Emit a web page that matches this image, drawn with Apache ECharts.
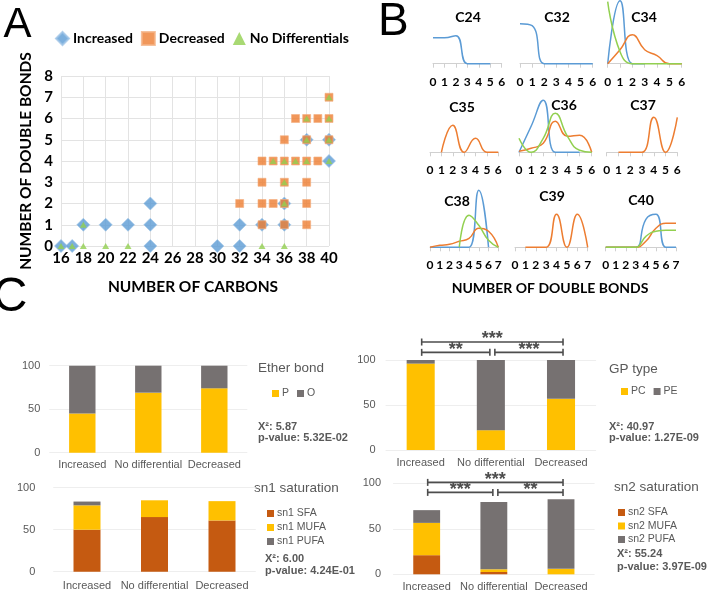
<!DOCTYPE html>
<html><head><meta charset="utf-8">
<script src="https://cdn.jsdelivr.net/npm/echarts@6/dist/echarts.min.js"></script>
<style>html,body{margin:0;padding:0;background:#fff}#c{width:708px;height:595px}</style>
</head><body><div id="c"></div>
<script>
// ---------- Panel A data: [number of carbons, number of double bonds]
const incPts = [[16,0],[17,0],[18,1],[20,1],[22,1],[24,0],[24,1],[24,2],[30,0],[32,0],[32,1],[34,1],[36,1],[36,2],[38,5],[40,4],[40,5]];
const decPts = [[32,2],[34,1],[34,2],[34,3],[34,4],[35,2],[35,4],[36,1],[36,2],[36,3],[36,4],[36,5],[37,4],[37,6],[38,1],[38,2],[38,3],[38,4],[38,5],[38,6],[39,4],[39,6],[40,5],[40,6],[40,7]];
const ndPts  = [[16,0],[17,0],[18,0],[18,1],[20,0],[22,0],[34,0],[36,0],[35,4],[36,2],[36,3],[36,4],[37,4],[38,4],[38,5],[38,6],[40,4],[40,5],[40,6],[40,7]];

// ---------- Panel B data (distribution over number of double bonds)
const bCats6 = ['0','1','2','3','4','5','6'];
const bCats7 = ['0','1','2','3','4','5','6','7'];
const c24Inc = [26,26,28,0,0,0];
const c32Inc = [40,38,0,0,0,0,0];
const c34Inc = [0,63,0,0];
const c34Dec = [0,14,29,14,8,0,0];
const c34Nd  = [62,12,0,0,0,0,0];
const c35Dec = [null,0,27,0,14,0,0];
const c36Inc = [0,26,52,0,0,0];
const c36Dec = [1,4,9,31,16,17,0];
const c36Nd  = [14,0,14,39,16,2,0];
const c37Dec = [null,0,0,0,35,0,35];
const c38Inc = [0,0,0,0,0,57,0];
const c38Dec = [0,2,3,6,9,19,16,0];
const c38Nd  = [null,null,null,0,32,22,7,0];
const c39Dec = [null,0,0,0,33,0,33,0];
const c40Inc = [0,0,0,0,28,33,0,0];
const c40Dec = [0,0,0,0,6,19,24,24];
const c40Nd  = [0,0,0,0,11,16,17,17];

// ---------- Panel C data (%)
const cCats = ['Increased','No differential','Decreased'];
const etherP = [45,69,74];
const etherO = [55,31,26];
const gpPC = [96,22,57];
const gpPE = [4,78,43];
const sn1SFA = [50,65,61];
const sn1MUFA = [29,20,23];
const sn1PUFA = [4.5,0,0];
const sn2SFA = [21,2.5,0];
const sn2MUFA = [35.5,3,6];
const sn2PUFA = [14,74,76.5];
const gpBrackets  = [[0,2,120,'***'],[0,1,108.5,'**'],[1,2,108.5,'***']];
const sn2Brackets = [[0,2,101,'***'],[0,1,90,'***'],[1,2,90,'**']];
const chiSq = ['5.87','40.97','6.00','55.24'];
const pVals = ['5.32E-02','1.27E-09','4.24E-01','3.97E-09'];

// ---------- styling
const FAB = 'Lato', FC = 'Liberation Sans';
const BLUE='#5B9BD5', ORANGE='#ED7D31', GREEN='#92D050', YEL='#FFC000', GRAY='#767171', BROWN='#C55A11', TXT='#595959';

const grids=[], xAxes=[], yAxes=[], series=[], graphics=[], legends=[];

function txt(x,y,text,opt){
  opt = opt||{};
  graphics.push({type:'text', x:x, y:y, rotation:opt.rot||0, silent:true, style:{
    text:text, fill:opt.color||'#000', fontSize:opt.size||12, fontWeight:opt.weight||'normal',
    fontFamily:opt.family||FC, align:opt.align||'left', verticalAlign:'middle',
    textAlign:opt.align||'left', textVerticalAlign:'middle'}});
}

// ---------- Panel A
grids.push({left:61, top:76, width:268, height:170});
xAxes.push({type:'value', gridIndex:0, min:16, max:40, interval:2,
  axisLine:{show:false}, axisTick:{show:false},
  splitLine:{lineStyle:{color:'#e3e3e3'}},
  axisLabel:{margin:5, color:'#000', fontWeight:'bold', fontSize:15, fontFamily:FAB}});
yAxes.push({type:'value', gridIndex:0, min:0, max:8, interval:1,
  axisLine:{show:false}, axisTick:{show:false},
  splitLine:{lineStyle:{color:'#e3e3e3'}},
  axisLabel:{margin:8, color:'#000', fontWeight:'bold', fontSize:15, fontFamily:FAB}});
series.push({name:'Increased', type:'scatter', xAxisIndex:0, yAxisIndex:0, data:incPts,
  symbol:'diamond', symbolSize:[13,13], itemStyle:{color:BLUE, borderColor:'#9DC3E6', borderWidth:0.8}, z:2});
series.push({name:'Decreased', type:'scatter', xAxisIndex:0, yAxisIndex:0, data:decPts,
  symbol:'rect', symbolSize:[8,8], itemStyle:{color:ORANGE, borderColor:'#F4B183', borderWidth:0.8}, z:3});
series.push({name:'No Differentials', type:'scatter', xAxisIndex:0, yAxisIndex:0, data:ndPts,
  symbol:'triangle', symbolSize:[7,6], itemStyle:{color:GREEN}, z:4});
legends.push({data:['Increased','Decreased','No Differentials'], left:50, top:26,
  itemWidth:13, itemHeight:13, itemGap:8, selectedMode:false,
  textStyle:{fontSize:14, fontWeight:'bold', fontFamily:FAB, color:'#000', padding:[0,0,0,-1]}});
txt(193, 287, 'NUMBER OF CARBONS', {size:15.5, weight:'bold', family:FAB, align:'center'});
txt(26, 161, 'NUMBER OF DOUBLE BONDS', {size:15.5, weight:'bold', family:FAB, align:'center', rot:Math.PI/2});

// ---------- Panel B
const bPanels = [
  {t:'C24', cats:bCats6, lines:[[c24Inc,BLUE]]},
  {t:'C32', cats:bCats6, lines:[[c32Inc,BLUE]]},
  {t:'C34', cats:bCats6, lines:[[c34Inc,BLUE],[c34Dec,ORANGE],[c34Nd,GREEN]]},
  {t:'C35', cats:bCats6, lines:[[c35Dec,ORANGE]]},
  {t:'C36', cats:bCats6, lines:[[c36Inc,BLUE],[c36Dec,ORANGE],[c36Nd,GREEN]]},
  {t:'C37', cats:bCats6, lines:[[c37Dec,ORANGE]]},
  {t:'C38', cats:bCats7, lines:[[c38Inc,BLUE],[c38Dec,ORANGE],[c38Nd,GREEN]]},
  {t:'C39', cats:bCats7, lines:[[c39Dec,ORANGE]]},
  {t:'C40', cats:bCats7, lines:[[c40Inc,BLUE],[c40Dec,ORANGE],[c40Nd,GREEN]]}
];
const bLayout = [
  {l:433, r:501.7, base:63.7, tx:468, ty:17},
  {l:520, r:592.7, base:63.7, tx:557, ty:17},
  {l:607.7, r:681.7, base:63.7, tx:644, ty:17},
  {l:430, r:498.3, base:152.3, tx:462, ty:107},
  {l:519, r:591.7, base:152.3, tx:564, ty:105},
  {l:606.7, r:677.3, base:152.3, tx:643, ty:105},
  {l:430, r:498.3, base:247.3, tx:457, ty:201},
  {l:515, r:587.7, base:247.3, tx:552, ty:196},
  {l:605.7, r:676, base:247.3, tx:641, ty:200}
];
const BH = 60;
bPanels.forEach(function(p,i){
  const L = bLayout[i], g = grids.length;
  grids.push({left:L.l, top:L.base-BH, width:L.r-L.l, height:BH});
  xAxes.push({type:'category', gridIndex:g, data:p.cats, boundaryGap:false,
    axisLine:{lineStyle:{color:'#d0d0d0', width:1}},
    axisTick:{show:true, length:4, lineStyle:{color:'#d0d0d0'}},
    axisLabel:{interval:0, margin:12, fontSize:12, fontWeight:'bold', color:'#000', fontFamily:FAB},
    splitLine:{show:false}});
  yAxes.push({type:'value', gridIndex:g, min:0, max:BH, show:false, splitLine:{show:false}});
  p.lines.forEach(function(ln,k){
    series.push({name:p.t+'_'+k, type:'line', xAxisIndex:g, yAxisIndex:g, data:ln[0],
      smooth:0.5, symbol:'none', clip:false, silent:true,
      lineStyle:{color:ln[1], width:1.5}, itemStyle:{color:ln[1]}});
  });
  txt(L.tx, L.ty, p.t, {size:14, weight:'bold', family:FAB, align:'center'});
});
txt(550, 288, 'NUMBER OF DOUBLE BONDS', {size:14, weight:'bold', family:FAB, align:'center'});

// ---------- Panel C
const cLayout = [
  {l:49.3, top:365.7, w:198, h:87, lm:9, xm:7},
  {l:385.6, top:360, w:210.5, h:90, lm:10, xm:7},
  {l:53.25, top:487.7, w:202.5, h:84, lm:18, xm:9},
  {l:393.1, top:483.3, w:201.5, h:91, lm:12, xm:7}
];
const cCharts = [
  [['P',etherP,YEL],['O',etherO,GRAY]],
  [['PC',gpPC,YEL],['PE',gpPE,GRAY]],
  [['sn1 SFA',sn1SFA,BROWN],['sn1 MUFA',sn1MUFA,YEL],['sn1 PUFA',sn1PUFA,GRAY]],
  [['sn2 SFA',sn2SFA,BROWN],['sn2 MUFA',sn2MUFA,YEL],['sn2 PUFA',sn2PUFA,GRAY]]
];
const cGridIdx = [];
cCharts.forEach(function(ch,i){
  const L = cLayout[i], g = grids.length;
  cGridIdx.push(g);
  grids.push({left:L.l, top:L.top, width:L.w, height:L.h});
  xAxes.push({type:'category', gridIndex:g, data:cCats,
    axisLine:{show:false}, axisTick:{show:false},
    axisLabel:{interval:0, margin:L.xm, fontSize:11, color:TXT, fontFamily:FC}});
  yAxes.push({type:'value', gridIndex:g, min:0, max:100, interval:50,
    axisLine:{show:false}, axisTick:{show:false},
    splitLine:{lineStyle:{color:'#eeeeee'}},
    axisLabel:{margin:L.lm, fontSize:11, color:TXT, fontFamily:FC}});
  ch.forEach(function(s){
    series.push({name:s[0], type:'bar', stack:'s'+i, xAxisIndex:g, yAxisIndex:g, data:s[1],
      barWidth:'40%', itemStyle:{color:s[2]}});
  });
});

function bracketSeries(g, brackets){
  return {type:'custom', name:'br'+g, xAxisIndex:g, yAxisIndex:g, clip:false, silent:true, z:10,
    data: brackets.map(function(b){return [b[0], b[2], b[1]];}),
    renderItem:function(params, api){
      const b = brackets[params.dataIndex];
      const s = api.coord([b[0], b[2]]), e = api.coord([b[1], b[2]]);
      const x1 = s[0] + (b[0]===1 ? 4 : 1), x2 = e[0] + (b[1]===1 ? -1 : 2), y = s[1];
      const st = {stroke:'#4d4d4d', lineWidth:1.6};
      return {type:'group', children:[
        {type:'line', shape:{x1:x1, y1:y, x2:x2, y2:y}, style:st},
        {type:'line', shape:{x1:x1, y1:y-3.5, x2:x1, y2:y+3.5}, style:st},
        {type:'line', shape:{x1:x2, y1:y-3.5, x2:x2, y2:y+3.5}, style:st},
        {type:'text', x:(x1+x2)/2, y:y-2.5, style:{text:b[3], fill:'#4d4d4d',
          fontSize:18, fontWeight:'bold', fontFamily:FC, align:'center', verticalAlign:'middle',
          textAlign:'center', textVerticalAlign:'middle'}}
      ]};
    }};
}
series.push(bracketSeries(cGridIdx[1], gpBrackets));
series.push(bracketSeries(cGridIdx[3], sn2Brackets));

const legCommon = {icon:'rect', itemWidth:7, itemHeight:7, selectedMode:false,
  textStyle:{fontSize:10.5, color:TXT, fontFamily:FC, padding:[0,0,0,-2]}};
legends.push(Object.assign({data:['P','O'], left:267, top:383, itemGap:8, orient:'horizontal'}, legCommon));
legends.push(Object.assign({data:['PC','PE'], left:616, top:381, itemGap:8, orient:'horizontal'}, legCommon));
legends.push(Object.assign({data:['sn1 SFA','sn1 MUFA','sn1 PUFA'], left:262, top:503, itemGap:3, orient:'vertical'}, legCommon));
legends.push(Object.assign({data:['sn2 SFA','sn2 MUFA','sn2 PUFA'], left:613, top:502, itemGap:2.5, orient:'vertical'}, legCommon));

const cTitles = [
  {t:'Ether bond', x:258, y:368, sx:258, s1:426.7, s2:437.8},
  {t:'GP type', x:609, y:369, sx:609, s1:426.7, s2:437.8},
  {t:'sn1 saturation', x:254, y:488.3, sx:265, s1:559.3, s2:571},
  {t:'sn2 saturation', x:614, y:487.3, sx:617, s1:554.3, s2:567.3}
];
cTitles.forEach(function(c,i){
  txt(c.x, c.y, c.t, {size:13.5, color:TXT, family:FC});
  txt(c.sx, c.s1, 'X\u00B2: '+chiSq[i], {size:11, weight:'bold', color:TXT, family:FC});
  txt(c.sx, c.s2, 'p-value: '+pVals[i], {size:11, weight:'bold', color:TXT, family:FC});
});

// panel letters
txt(17.5, 25, 'A', {size:42, family:FC, align:'center'});
txt(393.3, 22, 'B', {size:46, family:FC, align:'center'});
txt(10, 298, 'C', {size:48, family:FC, align:'center'});

const chart = echarts.init(document.getElementById('c'), null, {renderer:'canvas'});
chart.setOption({
  animation:false, backgroundColor:'#fff',
  grid:grids, xAxis:xAxes, yAxis:yAxes, series:series, legend:legends, graphic:graphics
});
</script></body></html>
